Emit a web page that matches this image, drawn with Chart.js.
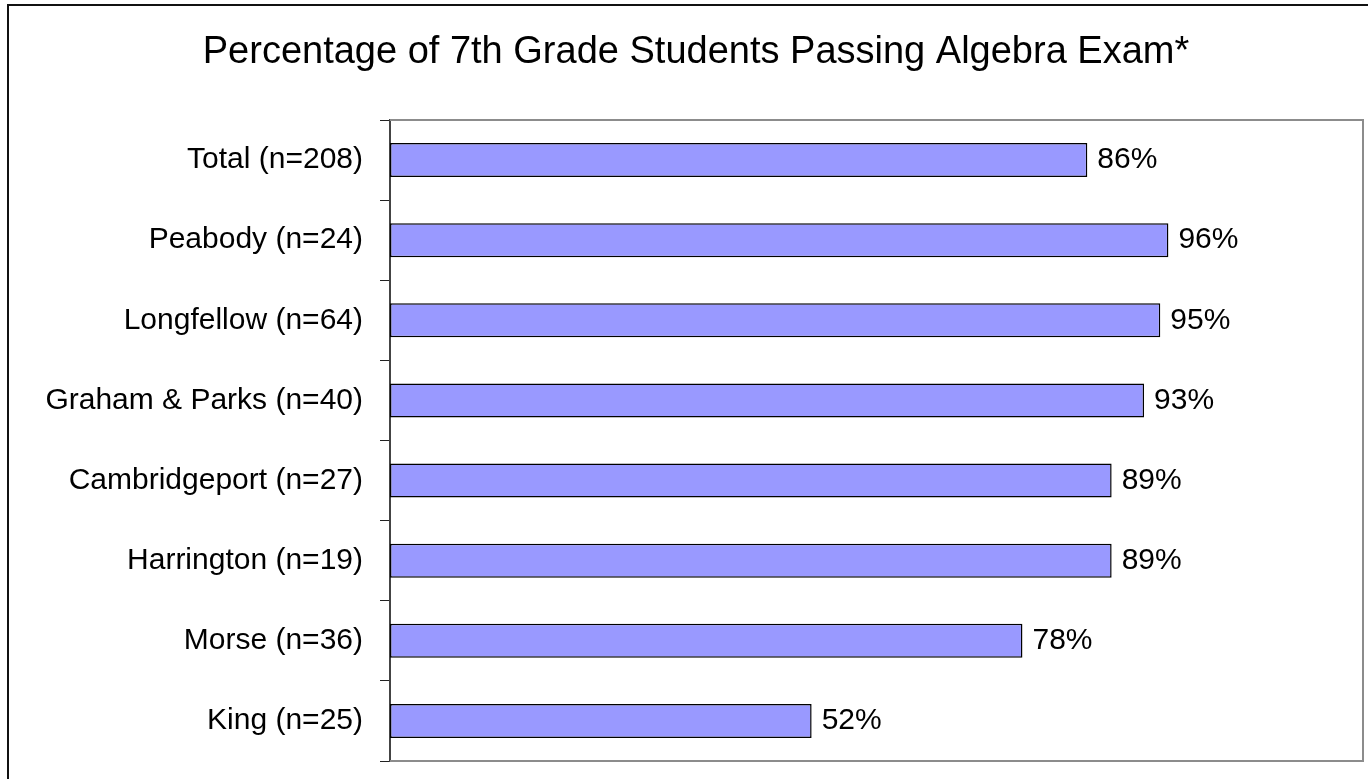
<!DOCTYPE html>
<html>
<head>
<meta charset="utf-8">
<script src="https://cdn.jsdelivr.net/npm/chart.js@4"></script>
<style>
  html, body { margin: 0; padding: 0; background: #fff; }
  #wrap { width: 1368px; height: 779px; position: relative; }
</style>
</head>
<body>
<div id="wrap"><canvas id="chart" width="1368" height="779"></canvas></div>
<script>
// chart data
const chartTitle = "Percentage of 7th Grade Students Passing Algebra Exam*";
const schools = [
    "Total (n=208)",
    "Peabody (n=24)",
    "Longfellow (n=64)",
    "Graham & Parks (n=40)",
    "Cambridgeport (n=27)",
    "Harrington (n=19)",
    "Morse (n=36)",
    "King (n=25)"
];
const passRates = [86, 96, 95, 93, 89, 89, 78, 52];

const fontFamily = "'Liberation Sans', Arial, sans-serif";

// title, frame and value labels drawn on top of the chart
const decorations = {
    id: "decorations",
    afterDraw(chart) {
        const ctx = chart.ctx;
        const area = chart.chartArea;
        ctx.save();

        // outer frame (only left and top edges fall inside the picture)
        ctx.strokeStyle = "#111";
        ctx.lineWidth = 2;
        ctx.beginPath();
        ctx.moveTo(8, 779);
        ctx.lineTo(8, 5);
        ctx.lineTo(1368, 5);
        ctx.stroke();

        // plot area border
        ctx.strokeStyle = "#8c8c8c";
        ctx.lineWidth = 2;
        ctx.beginPath();
        ctx.moveTo(area.left, area.top);
        ctx.lineTo(area.right, area.top);
        ctx.lineTo(area.right, area.bottom);
        ctx.lineTo(area.left, area.bottom);
        ctx.stroke();

        // title
        ctx.fillStyle = "#000";
        ctx.font = "38px " + fontFamily;
        ctx.textAlign = "center";
        ctx.textBaseline = "alphabetic";
        ctx.fillText(chartTitle, 696, 63);

        // value labels
        ctx.font = "30px " + fontFamily;
        ctx.textAlign = "left";
        ctx.textBaseline = "middle";
        chart.getDatasetMeta(0).data.forEach((bar, i) => {
            ctx.fillText(passRates[i] + "%", bar.x + 10, bar.y);
        });
        ctx.restore();
    }
};

new Chart(document.getElementById("chart").getContext("2d"), {
    type: "bar",
    data: {
        labels: schools,
        datasets: [{
            data: passRates,
            backgroundColor: "#9999ff",
            borderColor: "#000",
            borderWidth: 1.5,
            borderSkipped: false,
            barPercentage: 0.425,
            categoryPercentage: 1
        }]
    },
    options: {
        indexAxis: "y",
        responsive: false,
        animation: false,
        layout: { padding: { top: 120, bottom: 18, right: 5, left: 0 } },
        plugins: {
            legend: { display: false },
            title: { display: false },
            tooltip: { enabled: false }
        },
        scales: {
            x: { display: false, min: 0, max: 120 },
            y: {
                afterFit: (scale) => {
                    scale.width = 390;
                    scale.paddingTop = 0;
                    scale.paddingBottom = 0;
                },
                grid: {
                    offset: true,
                    drawOnChartArea: false,
                    drawTicks: true,
                    tickLength: 10,
                    color: "#222",
                    lineWidth: 1
                },
                border: { display: true, color: "#444", width: 2 },
                ticks: {
                    color: "#000",
                    padding: 17,
                    font: { family: fontFamily, size: 30 }
                }
            }
        }
    },
    plugins: [decorations]
});
</script>
</body>
</html>
